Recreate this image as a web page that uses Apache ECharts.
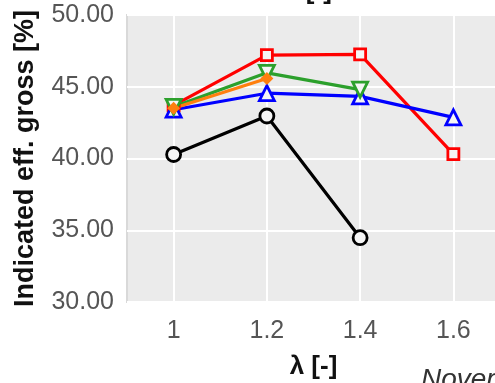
<!DOCTYPE html>
<html>
<head>
<meta charset="utf-8">
<script src="https://cdn.jsdelivr.net/npm/echarts@6/dist/echarts.min.js"></script>
<style>
  html, body { margin: 0; padding: 0; background: #fff; }
  #chart { width: 495px; height: 383px; }
</style>
</head>
<body>
<div id="chart"></div>
<script>
// lambda values on the x axis
var lambdaTicks = [1, 1.2, 1.4, 1.6];

// indicated gross efficiency [%], one array per curve
var redSeries    = [[1, 43.7], [1.2, 47.2], [1.4, 47.25], [1.6, 40.3]];
var greenSeries  = [[1, 43.6], [1.2, 45.97], [1.4, 44.8]];
var orangeSeries = [[1, 43.5], [1.2, 45.57]];
var blueSeries   = [[1, 43.4], [1.2, 44.55], [1.4, 44.33], [1.6, 42.87]];
var blackSeries  = [[1, 40.28], [1.2, 42.96], [1.4, 34.48]];

var chart = echarts.init(document.getElementById('chart'));

function line(data, color, symbol, size, rotate, fill) {
    return {
        type: 'line',
        data: data,
        symbol: symbol,
        symbolSize: size,
        symbolRotate: rotate,
        showAllSymbol: true,
        lineStyle: { color: color, width: 3.2 },
        itemStyle: { color: fill, borderColor: color, borderWidth: 2.8 },
        emphasis: { disabled: true },
        animation: false
    };
}

chart.setOption({
    animation: false,
    grid: {
        left: 127, right: -5, top: 15, bottom: 81,
        outerBoundsMode: 'none',
        show: true,
        backgroundColor: '#ebebeb',
        borderColor: '#d9d9d9',
        borderWidth: 2
    },
    graphic: [
        // title of the panel above, cut off by the crop
        { type: 'text', style: { text: 'λ [-]', x: 308, y: 5, align: 'center', verticalAlign: 'bottom',
            font: 'bold 26px "Liberation Sans", Arial, sans-serif', fill: '#111' } },
        // caption below, cut off by the crop
        { type: 'text', style: { text: 'November', x: 421, y: 366, align: 'left', verticalAlign: 'top',
            font: 'italic 28px "Liberation Sans", Arial, sans-serif', fill: '#333' } }
    ],
    xAxis: {
        type: 'value',
        min: 0.9,
        max: 1.7,
        name: 'λ [-]',
        nameLocation: 'middle',
        nameGap: 52,
        nameTextStyle: { fontFamily: 'Liberation Sans', fontWeight: 'bold', fontSize: 26, color: '#111' },
        axisLine: { show: false },
        axisTick: { show: false, customValues: lambdaTicks },
        axisLabel: {
            customValues: lambdaTicks,
            fontFamily: 'Liberation Sans', fontSize: 25, color: '#555', margin: 17
        },
        splitLine: { show: true, lineStyle: { color: '#ffffff', width: 2 } }
    },
    yAxis: {
        type: 'value',
        min: 30,
        max: 50,
        interval: 5,
        name: 'Indicated eff. gross [%]',
        nameLocation: 'middle',
        nameGap: 88,
        nameTextStyle: { fontFamily: 'Liberation Sans', fontWeight: 'bold', fontSize: 27, color: '#111' },
        axisLine: { show: false },
        axisTick: { show: false },
        axisLabel: {
            fontFamily: 'Liberation Sans', fontSize: 25, color: '#555', margin: 13,
            formatter: function (v) { return v.toFixed(2); }
        },
        splitLine: { show: true, lineStyle: { color: '#ffffff', width: 2 } }
    },
    series: [
        line(blackSeries, '#000000', 'circle', 14, 0, '#f5f5f5'),
        line(redSeries, '#ff0000', 'rect', 11, 0, '#f5f5f5'),
        line(blueSeries, '#0000ff', 'triangle', 15, 0, '#f5f5f5'),
        line(greenSeries, '#2ca02c', 'triangle', 15, 180, '#f5f5f5'),
        line(orangeSeries, '#ff7f0e', 'diamond', 9, 0, '#ff7f0e')
    ]
});
</script>
</body>
</html>
